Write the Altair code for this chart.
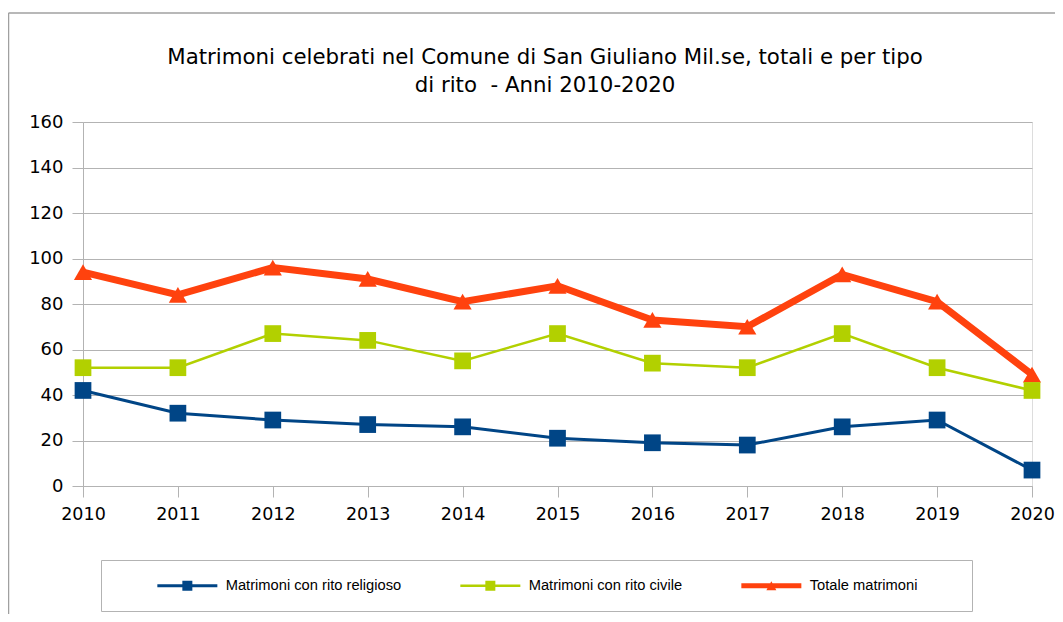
import altair as alt
import pandas as pd

years = [2010, 2011, 2012, 2013, 2014, 2015, 2016, 2017, 2018, 2019, 2020]
religioso = [42, 32, 29, 27, 26, 21, 19, 18, 26, 29, 7]
civile = [52, 52, 67, 64, 55, 67, 54, 52, 67, 52, 42]
totale = [94, 84, 96, 91, 81, 88, 73, 70, 93, 81, 49]

series = ["Matrimoni con rito religioso", "Matrimoni con rito civile", "Totale matrimoni"]
colors = ["#004586", "#b2d000", "#ff420e"]
shapes = ["square", "square", "triangle-up"]
widths = [3, 2.5, 7]
sizes = [280, 280, 330]
y_ticks = [0, 20, 40, 60, 80, 100, 120, 140, 160]
title_lines = [
    "Matrimoni celebrati nel Comune di San Giuliano Mil.se, totali e per tipo",
    "di rito \u00a0- Anni 2010-2020",
]

rows = []
for name, vals in [(series[2], totale), (series[1], civile), (series[0], religioso)]:
    for yr, v in zip(years, vals):
        rows.append({"anno": yr, "valore": v, "serie": name})
df = pd.DataFrame(rows)

x_enc = alt.X(
    "anno:Q",
    scale=alt.Scale(domain=[2010, 2020], nice=False, zero=False),
    axis=alt.Axis(values=years, format="d", grid=False, tickSize=11, tickColor="#b3b3b3",
                  domainColor="#b3b3b3", labelFontSize=17.5, labelPadding=8, labelColor="black",
                  labelFont="DejaVu Sans", title=None, labelFlush=False),
)
y_enc = alt.Y(
    "valore:Q",
    scale=alt.Scale(domain=[0, 160], nice=False),
    axis=alt.Axis(values=y_ticks, grid=True, gridColor="#b3b3b3", tickSize=11, tickColor="#b3b3b3",
                  domainColor="#b3b3b3", labelFontSize=18, labelPadding=9, labelColor="black",
                  labelFont="DejaVu Sans", title=None),
)

# legend symbols: line segment + marker as custom SVG paths (unit = 7px at size 196)
p_rel = "M4.428,-0.214H13.0V0.214H4.428Z M8.0,-0.714H9.428V0.714H8.0Z"
p_civ = "M4.428,-0.18H13.0V0.18H4.428Z M8.0,-0.714H9.428V0.714H8.0Z"
p_tot = "M34.71,0Z M4.428,-0.357H13.0V0.357H4.428Z M8.0,0.64L8.714,-0.64L9.428,0.64Z"

legend = alt.Legend(
    title=None, orient="none", legendX=18, legendY=438, direction="horizontal",
    strokeColor="#b3b3b3", padding=18, columnPadding=20, labelFont="Liberation Sans",
    labelFontSize=14.7, labelColor="black", symbolSize=196, labelOffset=92, labelLimit=400,
    symbolStrokeWidth=0, symbolOpacity=1,
)

base = alt.Chart(df)

layers = []
for name, col, shp, w, sz in reversed(list(zip(series, colors, shapes, widths, sizes))):
    sub = base.transform_filter(alt.datum.serie == name)
    layers.append(sub.mark_line(color=col, strokeWidth=w).encode(x=x_enc, y=y_enc))
    layers.append(sub.mark_point(filled=True, opacity=1, color=col, shape=shp, size=sz)
                  .encode(x=x_enc, y=y_enc))

legend_layer = base.transform_filter("false").mark_point(filled=True, opacity=1).encode(
    x=x_enc, y=y_enc,
    color=alt.Color("serie:N", scale=alt.Scale(domain=series, range=colors), legend=legend),
    shape=alt.Shape("serie:N", scale=alt.Scale(domain=series, range=[p_rel, p_civ, p_tot]),
                    legend=legend),
)

frame_src = alt.Chart(alt.Data(values=[{"k": 1}]))
left_border = frame_src.mark_rule(color="#a0a0a0", strokeWidth=1.5).encode(
    x=alt.value(-74.5), y=alt.value(-109), y2=alt.value(500))
top_border = frame_src.mark_rule(color="#a0a0a0", strokeWidth=1.5).encode(
    x=alt.value(-74.5), x2=alt.value(980), y=alt.value(-109))

chart = alt.layer(*layers, legend_layer, left_border, top_border).properties(
    width=949, height=364,
    title=alt.Title(title_lines, font="DejaVu Sans", fontSize=21.3, fontWeight="normal",
                    color="black", anchor="middle", frame="group", dx=-12.5, offset=-84,
                    lineHeight=28),
    autosize=alt.AutoSizeParams(type="none"),
    padding={"left": 75, "top": 114, "right": 23, "bottom": 128},
).configure_view(stroke="#b3b3b3").configure(background="white")

chart.save("out.html", embed_options={"renderer": "svg", "actions": False})
